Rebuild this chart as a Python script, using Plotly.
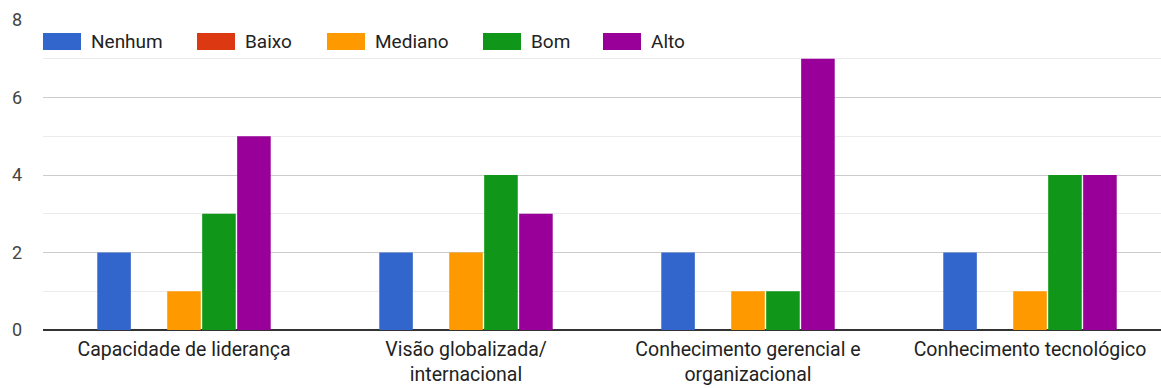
import plotly.graph_objects as go

categories = ["Capacidade de liderança", "Visão globalizada/<br>internacional",
              "Conhecimento gerencial e<br>organizacional", "Conhecimento tecnológico"]
series_names = ["Nenhum", "Baixo", "Mediano", "Bom", "Alto"]
nenhum = [2, 2, 2, 2]
baixo = [0, 0, 0, 0]
mediano = [1, 2, 1, 1]
bom = [3, 4, 1, 4]
alto = [5, 3, 7, 4]
series_values = [nenhum, baixo, mediano, bom, alto]
colors = ["#3366CC", "#DC3912", "#FF9900", "#109618", "#990099"]
y_ticks = [0, 2, 4, 6, 8]

W, H = 1161, 388
ML, MR, MT, MB = 43, 0, 20, 58
plot_w = W - ML - MR
plot_h = H - MT - MB

fig = go.Figure()
for name, vals, col in zip(series_names, series_values, colors):
    fig.add_trace(go.Bar(x=list(range(len(categories))), y=vals, name=name,
                         marker=dict(color=col, line=dict(width=0)), showlegend=False))

# custom legend (wide swatches like the original)
swatch_px = [43, 197, 327, 483, 603]
shapes = []
annotations = []
for sx, name, col in zip(swatch_px, series_names, colors):
    x0 = (sx - ML) / plot_w
    x1 = (sx + 38 - ML) / plot_w
    y0 = (MT + plot_h - 50) / plot_h
    y1 = (MT + plot_h - 33) / plot_h
    shapes.append(dict(type="rect", xref="paper", yref="paper", x0=x0, x1=x1,
                       y0=y0, y1=y1, fillcolor=col, line=dict(width=0), layer="above"))
    annotations.append(dict(xref="paper", yref="paper", x=(sx + 46 - ML) / plot_w,
                            y=(MT + plot_h - 42) / plot_h, text=name, showarrow=False,
                            xanchor="left", yanchor="middle",
                            font=dict(family="Roboto", size=19, color="#222222")))

fig.update_layout(
    width=W, height=H,
    margin=dict(l=ML, r=MR, t=MT, b=MB, pad=0),
    paper_bgcolor="white", plot_bgcolor="white",
    barmode="group", bargap=0.38, bargroupgap=0.04,
    shapes=shapes, annotations=annotations,
    font=dict(family="Roboto", size=19, color="#222222"),
    xaxis=dict(tickmode="array", tickvals=list(range(len(categories))), ticktext=categories,
               range=[-0.5, 3.5 - 10 / 282], showgrid=False, zeroline=False, showline=False,
               ticks="", ticklabelstandoff=5, automargin=False,
               tickfont=dict(family="Roboto", size=19.5, color="#222222")),
    yaxis=dict(range=[0, 8], tickvals=y_ticks, showgrid=True, gridcolor="#cccccc", gridwidth=1,
               zeroline=True, zerolinecolor="#333333", zerolinewidth=2,
               minor=dict(dtick=1, showgrid=True, gridcolor="#ebebeb", gridwidth=1),
               ticks="", ticklabelstandoff=20, automargin=False,
               tickfont=dict(family="Roboto", size=18, color="#444444")),
)

fig.write_html("out.html")
